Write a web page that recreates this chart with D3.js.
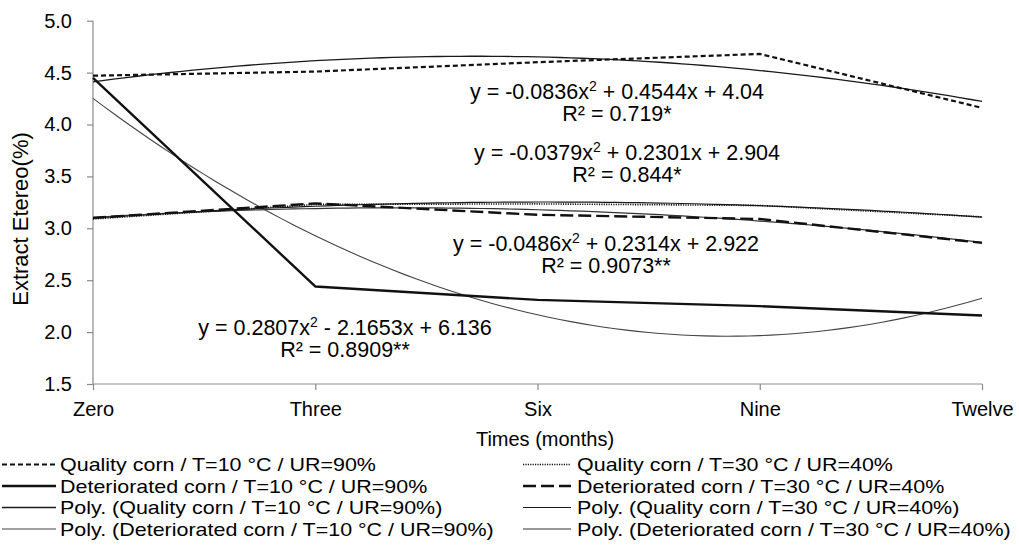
<!DOCTYPE html>
<html>
<head>
<meta charset="utf-8">
<script src="https://cdn.jsdelivr.net/npm/d3@7"></script>
<style>
  body { margin: 0; background: #fff; }
  svg { display: block; font-family: "Liberation Sans", Arial, sans-serif; }
</style>
</head>
<body>
<svg id="chart" width="1019" height="556"></svg>
<script>
// Storage time categories
const months = ["Zero", "Three", "Six", "Nine", "Twelve"];

// Ether extract (%) per storage condition
const qualityT10 = [4.47, 4.51, 4.60, 4.68, 4.16];
const deterioratedT10 = [4.45, 2.44, 2.31, 2.25, 2.16];
const qualityT30 = [3.09, 3.23, 3.235, 3.22, 3.11];
const deterioratedT30 = [3.10, 3.24, 3.13, 3.09, 2.86];

// Quadratic trend coefficients [a, b, c] for y = a x^2 + b x + c, x = 1..5
const trendQualityT10 = [-0.0836, 0.4544, 4.04];
const trendDeterioratedT10 = [0.2807, -2.1653, 6.136];
const trendQualityT30 = [-0.0379, 0.2301, 2.904];
const trendDeterioratedT30 = [-0.0486, 0.2314, 2.922];

// Coefficients of determination shown with each trend
const r2QualityT10 = "0.719*";
const r2DeterioratedT10 = "0.8909**";
const r2QualityT30 = "0.844*";
const r2DeterioratedT30 = "0.9073**";

const yTicks = [1.5, 2.0, 2.5, 3.0, 3.5, 4.0, 4.5, 5.0];

const legendLabels = [
  "Quality corn / T=10 °C / UR=90%",
  "Deteriorated corn / T=10 °C / UR=90%",
  "Poly. (Quality corn / T=10 °C / UR=90%)",
  "Poly. (Deteriorated corn / T=10 °C / UR=90%)",
  "Quality corn / T=30 °C / UR=40%",
  "Deteriorated corn / T=30 °C / UR=40%",
  "Poly. (Quality corn / T=30 °C / UR=40%)",
  "Poly. (Deteriorated corn / T=30 °C / UR=40%)"
];

const svg = d3.select("#chart");
const plot = { left: 93, right: 982, top: 20.7, bottom: 384 };

const x = d3.scalePoint().domain(months).range([plot.left, plot.right]);
const xIndex = d3.scaleLinear().domain([1, months.length]).range([plot.left, plot.right]);
const y = d3.scaleLinear().domain([1.5, 5.0]).range([plot.bottom, plot.top]);

const axisColor = "#8a8a8a";
const tickFont = 20;
const noteFont = 21.5;
const legendFont = 19;
const legendStretch = 1.13;

// Line styles
const styles = {
  qT10:  { stroke: "#111", width: 2.2, dash: "5,3" },
  dT10:  { stroke: "#111", width: 2.4, dash: null },
  qT30:  { stroke: "#111", width: 1.6, dash: "1.2,1.2" },
  dT30:  { stroke: "#111", width: 2.4, dash: "13,5" },
  pqT10: { stroke: "#1a1a1a", width: 1.3, dash: null },
  pdT10: { stroke: "#444", width: 1.1, dash: null },
  pqT30: { stroke: "#1a1a1a", width: 1.2, dash: null },
  pdT30: { stroke: "#333", width: 1.2, dash: null }
};

// Axes
const yAxis = svg.append("g")
  .attr("transform", `translate(${plot.left},0)`)
  .call(d3.axisLeft(y).tickValues(yTicks).tickFormat(d3.format(".1f")).tickSize(6).tickPadding(15));
const xAxis = svg.append("g")
  .attr("transform", `translate(0,${plot.bottom})`)
  .call(d3.axisBottom(x).tickSize(6).tickPadding(12));
[yAxis, xAxis].forEach(g => {
  g.select(".domain").attr("stroke", axisColor).attr("stroke-width", 1.2);
  g.selectAll(".tick line").attr("stroke", axisColor).attr("stroke-width", 1.2);
  g.selectAll(".tick text").attr("fill", "#000").attr("font-size", tickFont)
    .attr("font-family", "Liberation Sans, Arial, sans-serif");
});
yAxis.select(".domain").attr("d", `M0,${plot.top}V${plot.bottom}`);
xAxis.select(".domain").attr("d", `M${plot.left},0H${plot.right}`);

// Axis titles
svg.append("text")
  .attr("x", 545).attr("y", 446)
  .attr("text-anchor", "middle").attr("font-size", tickFont)
  .text("Times (months)");
svg.append("text")
  .attr("transform", "translate(28,219) rotate(-90)")
  .attr("text-anchor", "middle").attr("font-size", 22)
  .text("Extract Etereo(%)");

function applyStyle(sel, s) {
  sel.attr("fill", "none").attr("stroke", s.stroke).attr("stroke-width", s.width)
    .attr("stroke-linejoin", "round");
  if (s.dash) sel.attr("stroke-dasharray", s.dash);
  return sel;
}

// Quadratic trend curves
const quad = c => t => c[0] * t * t + c[1] * t + c[2];
const trendLine = d3.line().x(d => xIndex(d[0])).y(d => y(d[1]));
function drawTrend(coef, s) {
  const f = quad(coef);
  const pts = d3.range(1, 5.0001, 0.05).map(t => [t, f(t)]);
  applyStyle(svg.append("path").attr("d", trendLine(pts)), s);
}
drawTrend(trendQualityT10, styles.pqT10);
drawTrend(trendDeterioratedT10, styles.pdT10);
drawTrend(trendQualityT30, styles.pqT30);
drawTrend(trendDeterioratedT30, styles.pdT30);

// Observed series
const seriesLine = d3.line().x((d, i) => x(months[i])).y(d => y(d));
function drawSeries(values, s) {
  applyStyle(svg.append("path").attr("d", seriesLine(values)), s);
}
drawSeries(qualityT30, styles.qT30);
drawSeries(deterioratedT30, styles.dT30);
drawSeries(qualityT10, styles.qT10);
drawSeries(deterioratedT10, styles.dT10);

// Trend equations
const num = v => String(Math.abs(v));
const sign = v => (v < 0 ? "-" : "+");
function equation(coef, r2, cx, by) {
  const t = svg.append("text").attr("x", cx).attr("y", by)
    .attr("text-anchor", "middle").attr("font-size", noteFont);
  t.append("tspan").text(`y = ${coef[0] < 0 ? "-" : ""}${num(coef[0])}x`);
  t.append("tspan").attr("dy", -8).attr("font-size", 14).text("2");
  t.append("tspan").attr("dy", 8).text(` ${sign(coef[1])} ${num(coef[1])}x ${sign(coef[2])} ${num(coef[2])}`);
  svg.append("text").attr("x", cx).attr("y", by + 22)
    .attr("text-anchor", "middle").attr("font-size", noteFont)
    .text(`R² = ${r2}`);
}
equation(trendQualityT10, r2QualityT10, 617, 99);
equation(trendQualityT30, r2QualityT30, 627, 160);
equation(trendDeterioratedT30, r2DeterioratedT30, 606, 251);
equation(trendDeterioratedT10, r2DeterioratedT10, 345, 335);

// Legend: two columns of four entries
const legendStyles = [styles.qT10, styles.dT10, styles.pqT10, styles.pdT10,
                      styles.qT30, styles.dT30, styles.pqT30, styles.pdT30];
const rowBase = [471, 492.5, 514, 535.5];
legendLabels.forEach((label, i) => {
  const col = Math.floor(i / 4), row = i % 4;
  const x0 = col === 0 ? 2 : 523, x1 = col === 0 ? 56 : 571;
  const tx = col === 0 ? 60 : 577;
  const ly = rowBase[row] - 6.5;
  applyStyle(svg.append("path").attr("d", `M${x0},${ly}H${x1}`), legendStyles[i]);
  svg.append("text")
    .attr("transform", `translate(${tx},${rowBase[row]}) scale(${legendStretch},1)`)
    .attr("font-size", legendFont).text(label);
});
</script>
</body>
</html>
